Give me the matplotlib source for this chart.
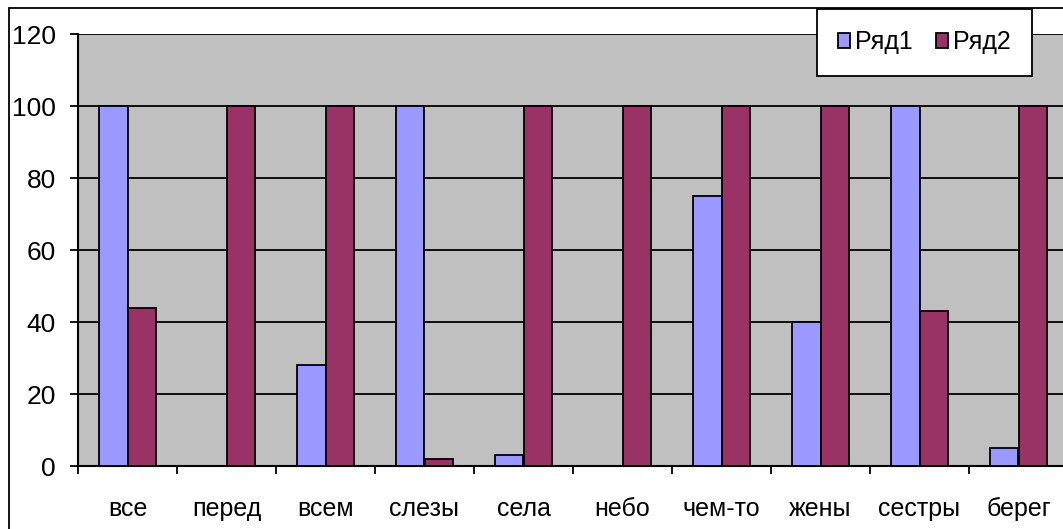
import matplotlib.pyplot as plt
import numpy as np
from matplotlib.patches import Rectangle

plt.rcParams['font.family'] = ['Liberation Sans', 'DejaVu Sans']

categories = ['все', 'перед', 'всем', 'слезы', 'села', 'небо', 'чем-то', 'жены', 'сестры', 'берег']
row1 = [100, 0, 28, 100, 3, 0, 75, 40, 100, 5]
row2 = [44, 100, 100, 2, 100, 100, 100, 100, 43, 100]
yticks = [0, 20, 40, 60, 80, 100, 120]

W, H = 1063, 529
fig = plt.figure(figsize=(W / 100, H / 100), dpi=100)
ax = fig.add_axes([78 / W, 1 - 466 / H, 990 / W, (466 - 34) / H])

x = np.arange(len(categories))
bw = 0.283
ax.bar(x - bw / 2, row1, bw, color='#9999FF', edgecolor='black', linewidth=1.3, label='Ряд1', zorder=3)
ax.bar(x + bw / 2, row2, bw, color='#993366', edgecolor='black', linewidth=1.3, label='Ряд2', zorder=3)

ax.set_facecolor('#C0C0C0')
ax.set_xlim(-0.5, len(categories) - 0.5)
ax.set_ylim(0, 120)
ax.set_yticks(yticks)
ax.yaxis.grid(True, color='black', linewidth=1.3, zorder=1)
ax.set_axisbelow(True)

ax.set_xticks(x)
ax.set_xticklabels(categories)
ax.set_xticks(np.arange(len(categories) + 1) - 0.5, minor=True)
ax.tick_params(axis='x', which='major', length=0, pad=22, labelsize=18)
ax.tick_params(axis='x', which='minor', length=6, width=1.3, direction='out')
ax.tick_params(axis='y', length=6, width=1.3, direction='out', pad=10, labelsize=19)

for side in ['top', 'right']:
    ax.spines[side].set_visible(False)
for side in ['left', 'bottom']:
    ax.spines[side].set_linewidth(1.5)

# chart frame around everything
frame = Rectangle((9 / W, -0.2), 1.2, 1.2 - 8 / H, transform=fig.transFigure,
                  fill=False, edgecolor='black', linewidth=1.3, clip_on=False)
fig.patches.append(frame)

leg = fig.legend(loc='upper right', bbox_to_anchor=(1032 / W, 1 - 9 / H),
                 ncol=2, fontsize=18, frameon=True, fancybox=False,
                 edgecolor='black', framealpha=1, borderaxespad=0,
                 handlelength=0.5, handleheight=0.5, handletextpad=0.2,
                 columnspacing=0.9, borderpad=0.85)
leg.get_frame().set_linewidth(1.3)

fig.savefig('out.png', dpi=100)
